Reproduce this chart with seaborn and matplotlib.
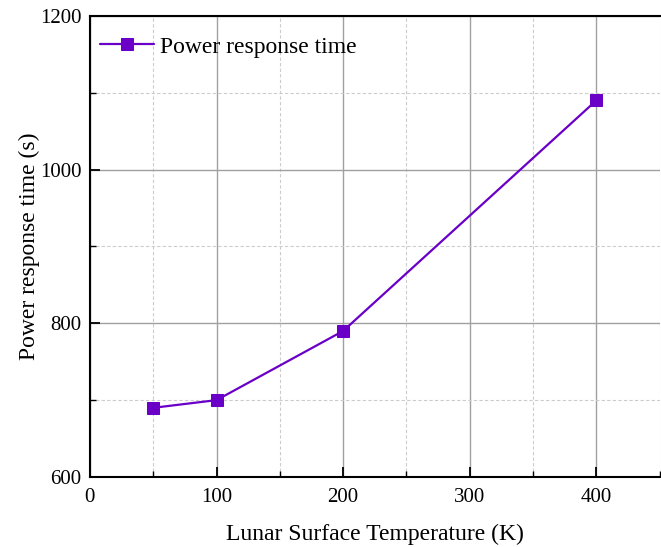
import matplotlib
matplotlib.use("Agg")
import matplotlib.pyplot as plt
import seaborn as sns
import pandas as pd
from matplotlib.ticker import MultipleLocator

temps = [50, 100, 200, 400]
resp_time = [690, 700, 790, 1090]
series_label = "Power response time"

df = pd.DataFrame({"T": temps, "t": resp_time})

sns.set_theme(style="white")
plt.rcParams['font.family'] = ['Liberation Serif', 'DejaVu Serif']
plt.rcParams['text.color'] = 'black'
plt.rcParams['axes.labelcolor'] = 'black'
plt.rcParams['xtick.color'] = 'black'
plt.rcParams['ytick.color'] = 'black'

fig = plt.figure(figsize=(6.61, 5.47), dpi=100)
ax = fig.add_axes([0.136, 0.128, 0.862, 0.843])

color = "#6a00c8"
sns.lineplot(data=df, x="T", y="t", ax=ax, color=color, marker="s",
             markersize=8, markeredgecolor=color, linewidth=1.6,
             label=series_label)

ax.set_xlim(0, 450)
ax.set_ylim(600, 1200)
ax.xaxis.set_major_locator(MultipleLocator(100))
ax.xaxis.set_minor_locator(MultipleLocator(50))
ax.yaxis.set_major_locator(MultipleLocator(200))
ax.yaxis.set_minor_locator(MultipleLocator(100))

ax.grid(which="major", color="#a0a0a0", linewidth=1.0, linestyle="-")
ax.grid(which="minor", color="#cccccc", linewidth=0.8, linestyle=(0, (3, 2)))
ax.set_axisbelow(True)

ax.tick_params(which="major", direction="in", length=7, width=1.3,
               labelsize=15, pad=6, color="black", labelcolor="black",
               bottom=True, left=True, top=False, right=False)
ax.tick_params(axis="x", which="major", pad=8)
ax.tick_params(which="minor", direction="in", length=4, width=1.0,
               bottom=True, left=True, top=False, right=False)

for s in ["left", "bottom", "top"]:
    ax.spines[s].set_color("black")
    ax.spines[s].set_linewidth(1.5)
ax.spines["right"].set_visible(False)

ax.set_xlabel("Lunar Surface Temperature (K)", fontsize=17, labelpad=12, color="black")
ax.set_ylabel("Power response time (s)", fontsize=17, color="black")
ax.yaxis.set_label_coords(-0.088, 0.5)

leg = ax.legend(loc="upper left", frameon=False, fontsize=17,
                bbox_to_anchor=(-0.012, 0.992),
                handlelength=2.3, borderaxespad=0.3, handletextpad=0.25)
for t in leg.get_texts():
    t.set_color("black")

fig.savefig("out.png", dpi=100)
